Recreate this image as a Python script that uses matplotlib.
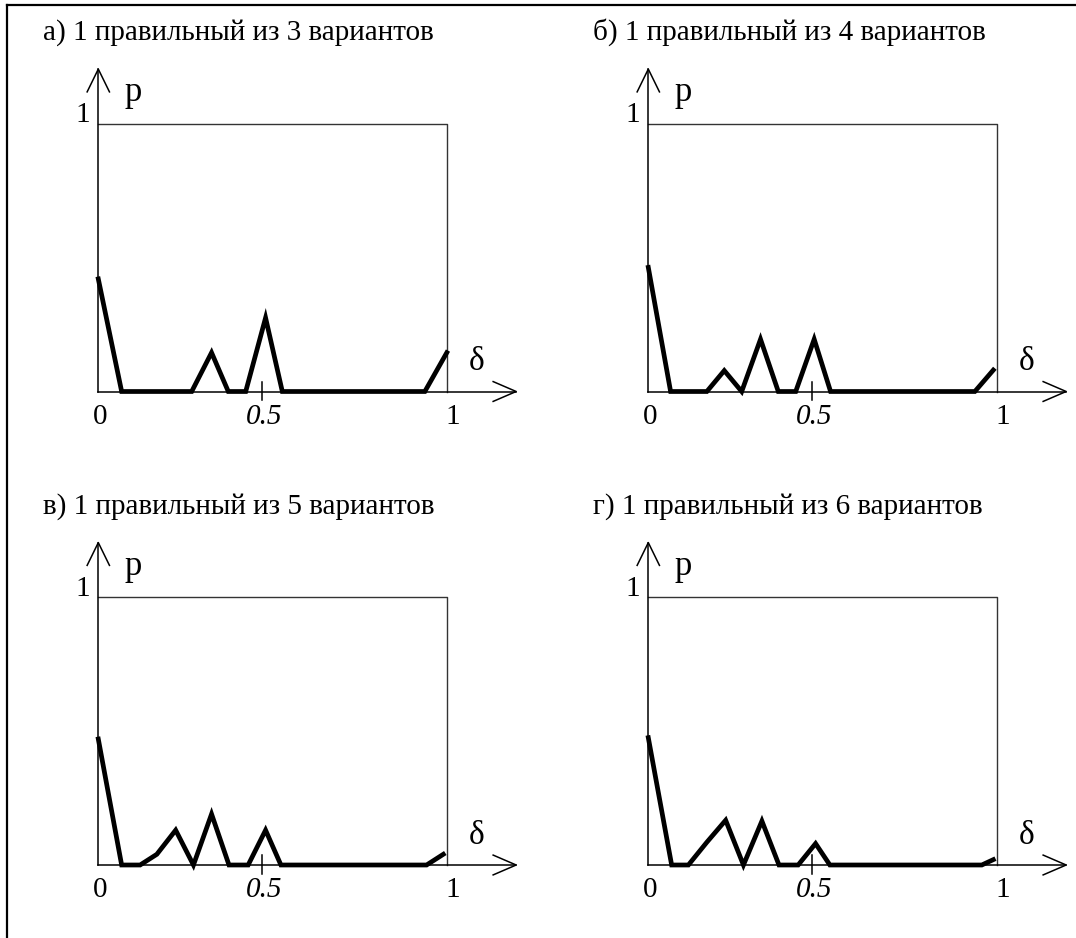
import numpy as np
import matplotlib.pyplot as plt
from matplotlib.lines import Line2D

plt.rcParams["font.family"] = ["Liberation Serif", "DejaVu Serif"]

# δ / p points for each panel
delta_a = [0.0, 0.067, 0.268, 0.325, 0.373, 0.423, 0.480, 0.528, 0.937, 1.0]
p_a = [0.42, 0.0, 0.0, 0.145, 0.0, 0.0, 0.275, 0.0, 0.0, 0.145]

delta_b = [0.0, 0.064, 0.168, 0.218, 0.268, 0.322, 0.373, 0.423, 0.476, 0.523, 0.937, 0.99]
p_b = [0.463, 0.0, 0.0, 0.078, 0.0, 0.195, 0.0, 0.0, 0.195, 0.0, 0.0, 0.08]

delta_v = [0.0, 0.067, 0.12, 0.168, 0.222, 0.273, 0.325, 0.375, 0.43, 0.48, 0.524, 0.942, 0.99]
p_v = [0.47, 0.0, 0.0, 0.04, 0.13, 0.0, 0.19, 0.0, 0.0, 0.13, 0.0, 0.0, 0.04]

delta_g = [0.0, 0.067, 0.115, 0.168, 0.222, 0.273, 0.326, 0.375, 0.43, 0.48, 0.521, 0.957, 0.99]
p_g = [0.475, 0.0, 0.0, 0.085, 0.167, 0.0, 0.164, 0.0, 0.0, 0.08, 0.0, 0.0, 0.02]

titles = [
    "а) 1 правильный из 3 вариантов",
    "б) 1 правильный из 4 вариантов",
    "в) 1 правильный из 5 вариантов",
    "г) 1 правильный из 6 вариантов",
]
tick_pos = [0.005, 0.476, 1.018]
tick_labels = ["0", "0.5", "1"]

W, H = 1076, 938
fig = plt.figure(figsize=(W / 100, H / 100), dpi=100)

# panel boxes in pixels: left, bottom (from top)
boxes = [(98.3, 391.5), (648.3, 391.5), (98.3, 865.0), (648.3, 865.0)]
bw, bh = 348.5, 268.0
fs = 21

series = [(delta_a, p_a), (delta_b, p_b), (delta_v, p_v), (delta_g, p_g)]

for (x0, yb), (dx, py), title in zip(boxes, series, titles):
    ax = fig.add_axes([x0 / W, (H - yb) / H, bw / W, bh / H])
    ax.set_xlim(0, 1)
    ax.set_ylim(0, 1)
    ax.axis("off")

    # box: top and right edges
    ax.plot([0, 1, 1], [1, 1, 0], color="#333333", lw=1.0, clip_on=False)

    # axes with open arrow heads
    ax.plot([0, 1.199], [0, 0], color="black", lw=1.1, clip_on=False)
    ax.plot([1.133, 1.199, 1.133], [0.037, 0, -0.037], color="black", lw=1.1, clip_on=False)
    ax.plot([0, 0], [0, 1.203], color="black", lw=1.1, clip_on=False)
    ax.plot([-0.032, 0, 0.032], [1.118, 1.203, 1.118], color="black", lw=1.1, clip_on=False)

    # tick at 0.5
    ax.plot([0.47, 0.47], [0.037, -0.032], color="black", lw=1.1, clip_on=False)

    # the curve
    ax.plot(dx, py, color="black", lw=3.4, solid_joinstyle="miter", clip_on=False, zorder=3)

    ax.text(0.10, 1.114, "p", fontsize=25, ha="center", va="center")
    ax.text(-0.045, 1.03, "1", fontsize=fs, ha="center", va="center")
    ax.text(1.086, 0.111, "δ", fontsize=24, ha="center", va="center")
    for tp, tl in zip(tick_pos, tick_labels):
        ax.text(tp, -0.095, tl, fontsize=fs, ha="center", va="center",
                style="italic" if tl == "0.5" else "normal")

    ax.text(-0.159, 1.312, title, fontsize=fs, ha="left", va="baseline")

# frame lines on the left and top
fig.add_artist(Line2D([6.5 / W, 6.5 / W], [0, 1 - 5.5 / H], color="black", lw=1.6))
fig.add_artist(Line2D([6.5 / W, 1], [1 - 5.5 / H, 1 - 5.5 / H], color="black", lw=1.6))

fig.savefig("out.png", dpi=100)
